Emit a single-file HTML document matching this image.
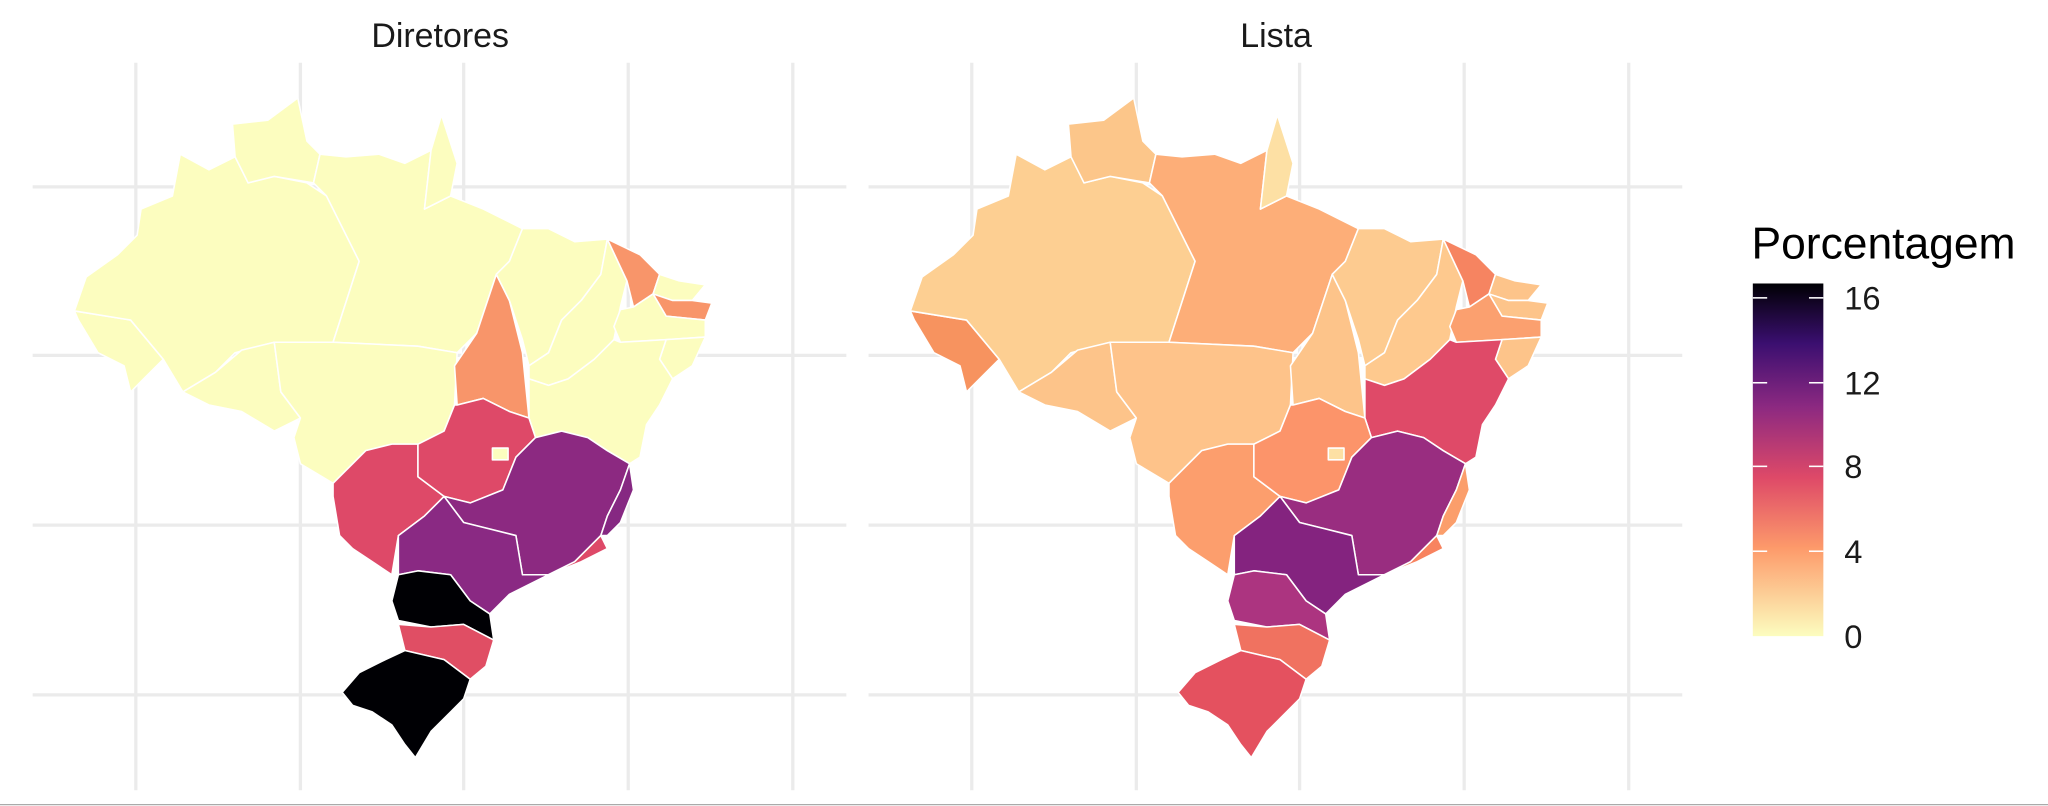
<!DOCTYPE html>
<html><head><meta charset="utf-8"><style>
html,body{margin:0;padding:0;background:#fff;}
svg{display:block}
text{font-family:"Liberation Sans",sans-serif}
</style></head><body>
<svg width="2048" height="806" viewBox="0 0 1568 617" xmlns="http://www.w3.org/2000/svg">
<defs>
<linearGradient id="g" x1="0" y1="1" x2="0" y2="0">
<stop offset="0" stop-color="#fcfdbf"/><stop offset="0.25" stop-color="#fd9a6a"/><stop offset="0.45" stop-color="#de4968"/><stop offset="0.65" stop-color="#8c2981"/><stop offset="0.83" stop-color="#3b0f70"/><stop offset="1" stop-color="#000004"/>
</linearGradient>
<g id="grid" stroke="#ebebeb" stroke-width="2.5" fill="none">
<line x1="104" y1="48" x2="104" y2="605"/><line x1="230" y1="48" x2="230" y2="605"/><line x1="355" y1="48" x2="355" y2="605"/><line x1="481" y1="48" x2="481" y2="605"/><line x1="607" y1="48" x2="607" y2="605"/>
<line x1="25" y1="143" x2="648" y2="143"/><line x1="25" y1="272" x2="648" y2="272"/><line x1="25" y1="402" x2="648" y2="402"/><line x1="25" y1="532" x2="648" y2="532"/>
</g>
</defs>
<use href="#grid"/>
<use href="#grid" transform="translate(640,0)"/>
<text x="337" y="36" font-size="26" text-anchor="middle" fill="#1a1a1a">Diretores</text>
<text x="977" y="36" font-size="26" text-anchor="middle" fill="#1a1a1a">Lista</text>

<g stroke="#fff" stroke-width="1.2" stroke-linejoin="round">
<polygon fill="#fcfdbf" points="57,238 100,245 125,275 100,300 95,280 75,270 60,245"/>
<polygon fill="#fcfdbf" points="66,212 90,195 105,180 108,160 132,150 138,118 160,130 180,120 190,140 210,135 235,140 250,150 275,200 255,262 210,262 180,270 165,285 140,300 125,275 100,245 57,238"/>
<polygon fill="#fcfdbf" points="178,95 205,92 228,75 235,108 245,118 240,140 210,135 190,140 180,120"/>
<polygon fill="#fcfdbf" points="245,118 265,120 290,118 310,125 330,115 325,160 345,150 370,160 400,175 390,200 380,210 365,255 350,270 320,265 255,262 275,200 250,150 240,140"/>
<polygon fill="#fcfdbf" points="330,115 338,88 350,125 345,150 325,160"/>
<polygon fill="#fcfdbf" points="140,300 165,285 185,268 210,262 215,300 230,320 210,330 185,315 160,310"/>
<polygon fill="#fcfdbf" points="210,262 255,262 320,265 350,270 348,310 340,330 320,340 300,340 280,345 255,370 230,355 225,335 230,320 215,300"/>
<polygon fill="#de4968" points="255,370 280,345 300,340 320,340 320,365 340,380 325,395 305,410 300,440 285,430 270,420 260,410 255,380"/>
<polygon fill="#f8956a" points="380,210 390,230 400,270 405,320 390,315 370,305 350,310 348,280 365,255"/>
<polygon fill="#fcfdbf" points="400,175 420,175 440,185 465,183 460,210 445,230 430,245 420,270 405,280 400,260 390,230 380,210 390,200"/>
<polygon fill="#fcfdbf" points="465,183 480,215 475,235 470,260 455,275 435,290 420,295 405,290 405,280 420,270 430,245 445,230 460,210"/>
<polygon fill="#f8956a" points="465,183 490,195 505,210 500,225 485,235 480,215"/>
<polygon fill="#fcfdbf" points="505,210 520,215 540,218 530,230 515,230 500,225"/>
<polygon fill="#f8956a" points="500,225 515,230 530,230 545,232 540,245 510,242"/>
<polygon fill="#fcfdbf" points="485,235 500,225 510,242 540,245 540,258 510,260 475,262 470,250 475,237"/>
<polygon fill="#fcfdbf" points="510,260 540,258 530,280 515,290 505,275"/>
<polygon fill="#fcfdbf" points="475,262 510,260 505,275 515,290 505,310 495,325 490,350 482,355 465,345 450,335 430,330 410,335 405,320 405,290 420,295 435,290 455,275 470,260"/>
<polygon fill="#de4968" points="350,310 370,305 390,315 405,320 410,335 395,350 385,375 360,385 340,380 320,365 320,340 340,330 348,310"/>
<rect fill="#fcfdbf" x="377" y="343" width="12" height="9"/>
<polygon fill="#8c2981" points="410,335 430,330 450,335 465,345 482,355 475,375 465,395 460,410 440,430 420,440 400,440 395,410 375,405 355,400 340,380 360,385 385,375 395,350"/>
<polygon fill="#862882" points="482,355 485,375 475,400 465,410 460,410 465,395 475,375"/>
<polygon fill="#de4968" points="460,410 465,420 445,430 420,440 440,430"/>
<polygon fill="#8a2983" points="340,380 355,400 375,405 395,410 400,440 420,440 390,455 375,470 360,460 345,440 320,437 305,440 305,410 325,395"/>
<polygon fill="#000004" points="305,440 320,437 345,440 360,460 375,470 378,490 355,478 330,480 305,475 300,460"/>
<polygon fill="#e04e64" points="305,478 330,480 355,478 378,490 372,510 360,520 340,505 310,498"/>
<polygon fill="#000004" points="310,498 340,505 360,520 355,535 345,545 330,560 318,580 310,570 300,555 285,545 270,540 262,530 275,515 295,505"/>
</g>
<g stroke="#fff" stroke-width="1.2" stroke-linejoin="round" transform="translate(640,0)">
<polygon fill="#f7935f" points="57,238 100,245 125,275 100,300 95,280 75,270 60,245"/>
<polygon fill="#fdcf92" points="66,212 90,195 105,180 108,160 132,150 138,118 160,130 180,120 190,140 210,135 235,140 250,150 275,200 255,262 210,262 180,270 165,285 140,300 125,275 100,245 57,238"/>
<polygon fill="#fcc68a" points="178,95 205,92 228,75 235,108 245,118 240,140 210,135 190,140 180,120"/>
<polygon fill="#fdae78" points="245,118 265,120 290,118 310,125 330,115 325,160 345,150 370,160 400,175 390,200 380,210 365,255 350,270 320,265 255,262 275,200 250,150 240,140"/>
<polygon fill="#fde0a4" points="330,115 338,88 350,125 345,150 325,160"/>
<polygon fill="#fdc48a" points="140,300 165,285 185,268 210,262 215,300 230,320 210,330 185,315 160,310"/>
<polygon fill="#fec38a" points="210,262 255,262 320,265 350,270 348,310 340,330 320,340 300,340 280,345 255,370 230,355 225,335 230,320 215,300"/>
<polygon fill="#fc9e6d" points="255,370 280,345 300,340 320,340 320,365 340,380 325,395 305,410 300,440 285,430 270,420 260,410 255,380"/>
<polygon fill="#fdc48a" points="380,210 390,230 400,270 405,320 390,315 370,305 350,310 348,280 365,255"/>
<polygon fill="#fdcb90" points="400,175 420,175 440,185 465,183 460,210 445,230 430,245 420,270 405,280 400,260 390,230 380,210 390,200"/>
<polygon fill="#fec98e" points="465,183 480,215 475,235 470,260 455,275 435,290 420,295 405,290 405,280 420,270 430,245 445,230 460,210"/>
<polygon fill="#f68461" points="465,183 490,195 505,210 500,225 485,235 480,215"/>
<polygon fill="#fdc48a" points="505,210 520,215 540,218 530,230 515,230 500,225"/>
<polygon fill="#fdc48a" points="500,225 515,230 530,230 545,232 540,245 510,242"/>
<polygon fill="#fba06f" points="485,235 500,225 510,242 540,245 540,258 510,260 475,262 470,250 475,237"/>
<polygon fill="#fdc48a" points="510,260 540,258 530,280 515,290 505,275"/>
<polygon fill="#df4a68" points="475,262 510,260 505,275 515,290 505,310 495,325 490,350 482,355 465,345 450,335 430,330 410,335 405,320 405,290 420,295 435,290 455,275 470,260"/>
<polygon fill="#fc946a" points="350,310 370,305 390,315 405,320 410,335 395,350 385,375 360,385 340,380 320,365 320,340 340,330 348,310"/>
<rect fill="#fde0a4" x="377" y="343" width="12" height="9"/>
<polygon fill="#992d80" points="410,335 430,330 450,335 465,345 482,355 475,375 465,395 460,410 440,430 420,440 400,440 395,410 375,405 355,400 340,380 360,385 385,375 395,350"/>
<polygon fill="#fb9e6b" points="482,355 485,375 475,400 465,410 460,410 465,395 475,375"/>
<polygon fill="#f8835f" points="460,410 465,420 445,430 420,440 440,430"/>
<polygon fill="#84237f" points="340,380 355,400 375,405 395,410 400,440 420,440 390,455 375,470 360,460 345,440 320,437 305,440 305,410 325,395"/>
<polygon fill="#ac3480" points="305,440 320,437 345,440 360,460 375,470 378,490 355,478 330,480 305,475 300,460"/>
<polygon fill="#f07260" points="305,478 330,480 355,478 378,490 372,510 360,520 340,505 310,498"/>
<polygon fill="#e4515f" points="310,498 340,505 360,520 355,535 345,545 330,560 318,580 310,570 300,555 285,545 270,540 262,530 275,515 295,505"/>
</g>

<text x="1341" y="198" font-size="34" fill="#000">Porcentagem</text>
<rect x="1342" y="217" width="54" height="270" fill="url(#g)"/>
<g stroke="#fff" stroke-width="1.2">
<line x1="1342" y1="228" x2="1353" y2="228"/><line x1="1385" y1="228" x2="1396" y2="228"/>
<line x1="1342" y1="293" x2="1353" y2="293"/><line x1="1385" y1="293" x2="1396" y2="293"/>
<line x1="1342" y1="357" x2="1353" y2="357"/><line x1="1385" y1="357" x2="1396" y2="357"/>
<line x1="1342" y1="422" x2="1353" y2="422"/><line x1="1385" y1="422" x2="1396" y2="422"/>
</g>
<g font-size="25" fill="#1a1a1a">
<text x="1412" y="237">16</text><text x="1412" y="302">12</text><text x="1412" y="366">8</text><text x="1412" y="431">4</text><text x="1412" y="496">0</text>
</g>
<line x1="0" y1="616" x2="1568" y2="616" stroke="#aaa" stroke-width="1"/>
</svg>
</body></html>
